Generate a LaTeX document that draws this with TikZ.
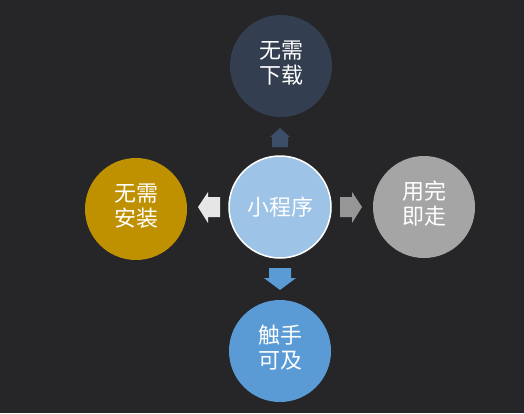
\documentclass[tikz,border=0pt]{standalone}
\usepackage{fontspec}
\newfontfamily\cjk{Noto Sans CJK SC}
\definecolor{bgcol}{RGB}{38,38,41}
\definecolor{navy}{RGB}{51,63,80}
\definecolor{navyarrow}{RGB}{60,78,104}
\definecolor{gold}{RGB}{191,144,0}
\definecolor{lightgray}{RGB}{231,230,230}
\definecolor{midgray}{RGB}{165,165,165}
\definecolor{arrowgray}{RGB}{150,150,150}
\definecolor{skyblue}{RGB}{91,155,213}
\definecolor{paleblue}{RGB}{157,195,230}
\begin{document}
\begin{tikzpicture}[x=1pt, y=-1pt,
  word/.style={text=white, align=center, font=\cjk\fontsize{22}{25}\selectfont},
  bubble/.style={circle, minimum size=102pt, inner sep=0pt, word}]
%draw the background
\fill[bgcol] (0,0) rectangle (524,413);
\useasboundingbox (0,0) rectangle (524,413);

%draw the circles
\node[bubble, fill=paleblue, draw=white, line width=1.5pt] (xcx) at (280,207) {小程序};
\node[bubble, fill=navy, label={[word, yshift=3pt]center:{无需\\下载}}] (xiazai) at (281,66) {};
\node[bubble, fill=gold, label={[word, yshift=3pt]center:{无需\\安装}}] (anzhuang) at (136,209) {};
\node[bubble, fill=midgray, label={[word, yshift=3pt]center:{用完\\即走}}] (yongwan) at (424,207) {};
\node[bubble, fill=skyblue, label={[word, yshift=3pt]center:{触手\\可及}}] (chushou) at (280,351) {};

%draw the arrows
\fill[navyarrow] (280,128) -- (290,137) -- (288,137) -- (288,147) -- (272,147) -- (272,137) -- (270,137) -- cycle;
\fill[lightgray] (198,207) -- (208,192) -- (208,197) -- (220,197) -- (220,217) -- (208,217) -- (208,223) -- cycle;
\fill[arrowgray] (362,207) -- (352,192) -- (352,197) -- (340,197) -- (340,217) -- (352,217) -- (352,223) -- cycle;
\fill[skyblue] (280,290) -- (264,278) -- (269,278) -- (269,268) -- (291,268) -- (291,278) -- (296,278) -- cycle;

\end{tikzpicture}
\end{document}
